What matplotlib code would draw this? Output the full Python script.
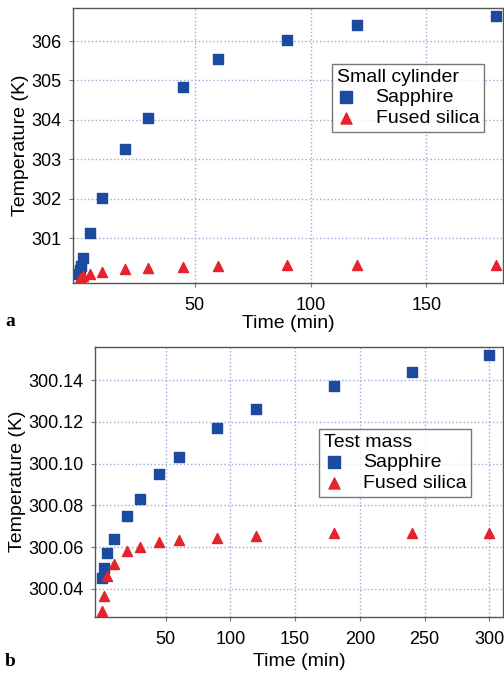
import matplotlib
matplotlib.use("Agg")
import matplotlib.pyplot as plt

plt.rcParams['font.family'] = ['Liberation Sans', 'DejaVu Sans']

# panel a: small cylinder
t_a = [0, 0.5, 1, 2, 5, 10, 20, 30, 45, 60, 90, 120, 180]
sapph_a = [300.08, 300.18, 300.30, 300.49, 301.13, 302.01, 303.25, 304.06,
           304.83, 305.55, 306.04, 306.40, 306.64]
silica_a = [299.93, 299.96, 299.99, 300.03, 300.09, 300.14, 300.21, 300.24,
            300.27, 300.30, 300.31, 300.31, 300.32]

# panel b: test mass
t_b = [1, 2, 5, 10, 20, 30, 45, 60, 90, 120, 180, 240, 300]
sapph_b = [300.045, 300.050, 300.057, 300.064, 300.075, 300.083, 300.095,
           300.103, 300.117, 300.126, 300.137, 300.144, 300.152]
silica_b = [300.0295, 300.0366, 300.046, 300.052, 300.058, 300.060, 300.0626,
            300.0636, 300.0645, 300.0655, 300.067, 300.0667, 300.0667]

blue = '#1c4a9e'
red = '#e6222b'
grid_c = '#9aaad8'

fig = plt.figure(figsize=(5.04, 6.73), dpi=100)
ax1 = fig.add_axes([0.1448, 0.5795, 0.853, 0.4086])
ax2 = fig.add_axes([0.1885, 0.0837, 0.8095, 0.4011])


def style(ax, xpad):
    ax.grid(True, color=grid_c, linestyle=':', linewidth=1.0)
    ax.set_axisbelow(True)
    for s in ax.spines.values():
        s.set_color('#555555')
        s.set_linewidth(1.0)
    ax.tick_params(direction='out', length=3, width=0.8, color='#777777',
                   labelsize=13)
    ax.tick_params(axis='x', pad=7)
    ax.tick_params(axis='y', pad=5)
    ax.set_xlabel('Time (min)', fontsize=14, labelpad=xpad)
    ax.set_ylabel('Temperature (K)', fontsize=14, labelpad=2)


def legend(ax, title, anchor):
    leg = ax.legend(title=title, loc='upper left', bbox_to_anchor=anchor,
                    fontsize=14, title_fontsize=14, frameon=True, fancybox=False,
                    edgecolor='#555555', handletextpad=1.0, borderpad=0.25,
                    labelspacing=0.15, handlelength=1.0, borderaxespad=0,
                    markerscale=1.1)
    leg._legend_box.align = 'left'
    leg.get_frame().set_linewidth(1.0)
    return leg


ax1.scatter(t_a, sapph_a, marker='s', s=52, color=blue, label='Sapphire', zorder=3)
ax1.scatter(t_a, silica_a, marker='^', s=52, color=red, label='Fused silica', zorder=3)
ax1.set_xlim(-2.5, 183)
ax1.set_ylim(299.86, 306.84)
ax1.set_xticks([50, 100, 150])
ax1.set_yticks([301, 302, 303, 304, 305, 306])
style(ax1, 1)
legend(ax1, 'Small cylinder', (0.602, 0.796))

ax2.scatter(t_b, sapph_b, marker='s', s=52, color=blue, label='Sapphire', zorder=3)
ax2.scatter(t_b, silica_b, marker='^', s=52, color=red, label='Fused silica', zorder=3)
ax2.set_xlim(-4.6, 310.5)
ax2.set_ylim(300.0267, 300.156)
yt_b = [300.04, 300.06, 300.08, 300.10, 300.12, 300.14]
ax2.set_xticks([50, 100, 150, 200, 250, 300])
ax2.set_yticks(yt_b)
ax2.set_yticklabels(['%.2f' % v for v in yt_b])
style(ax2, 4)
legend(ax2, 'Test mass', (0.549, 0.695))

fig.text(0.01, 0.515, 'a', fontsize=14, fontweight='bold', family='Liberation Serif')
fig.text(0.01, 0.01, 'b', fontsize=14, fontweight='bold', family='Liberation Serif')

fig.savefig('out.png', dpi=100)
